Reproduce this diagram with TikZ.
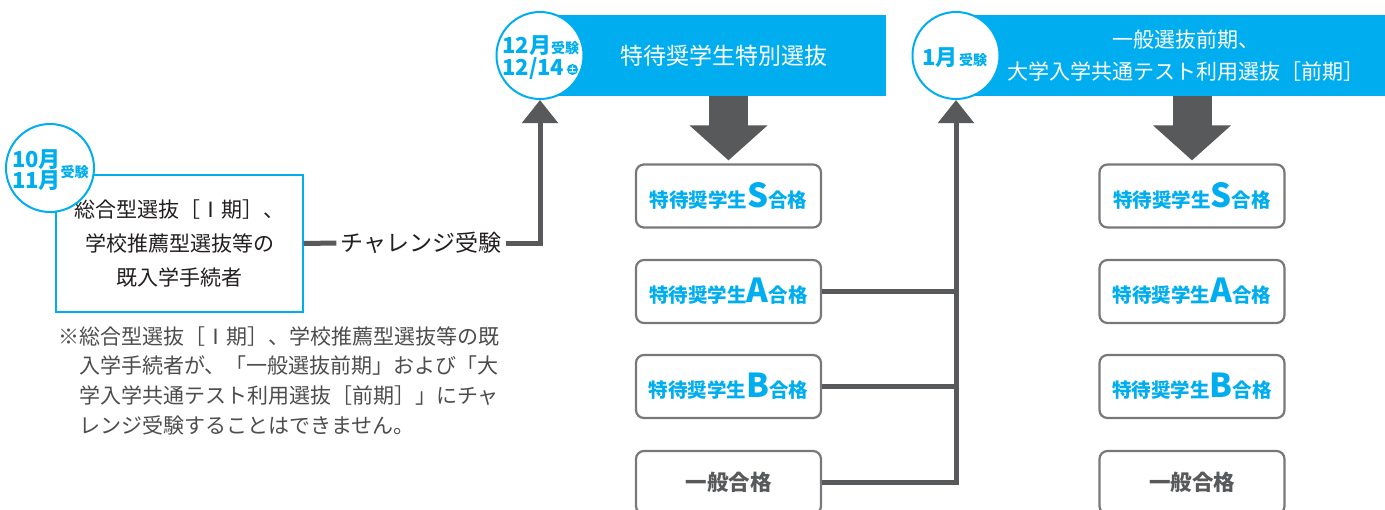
\documentclass[tikz,border=0pt]{standalone}
\usepackage{fontspec}
\setmainfont{Noto Sans CJK JP}
\usetikzlibrary{arrows.meta}
\definecolor{cy}{HTML}{00AEEF}
\definecolor{dg}{HTML}{58595B}
\definecolor{bd}{HTML}{77787B}
\definecolor{tx}{HTML}{231F20}
\definecolor{nt}{HTML}{4D4D4F}
\newcommand\tokutai[1]{{\fontsize{19.5}{20}\selectfont 特待奨学生}{\fontsize{33}{34}\selectfont #1}{\fontsize{19.5}{20}\selectfont 合格}}
\begin{document}
\begin{tikzpicture}[x=1pt,y=-1pt,
  conn/.style={draw=dg,line width=5pt},
  upar/.style={conn,-{Triangle[width=35pt,length=23pt]}},
  bigar/.style={draw=dg,line width=39pt,-{Triangle[width=76pt,length=35pt]},shorten >=3pt},
  result/.style={draw=bd,line width=2.2pt,rounded corners=8pt,fill=white,minimum width=185pt,minimum height=63pt,inner sep=0pt,text=cy,font=\bfseries},
  general/.style={result,text=dg,font=\bfseries\fontsize{21.5}{22}\selectfont},
  datec/.style={circle,draw=cy,line width=2pt,fill=white,minimum size=87pt,inner sep=0pt},
  bar/.style={fill=cy,minimum height=81pt,inner sep=0pt},
  ctxt/.style={text=cy,font=\bfseries\fontsize{22}{22}\selectfont,inner sep=0pt,anchor=base west,text height=16pt,text depth=0pt},
  csmall/.style={text=cy,font=\bfseries\fontsize{14}{14}\selectfont,inner sep=0pt,anchor=base west,text height=11pt,text depth=0pt},
  htxt/.style={text=white,inner sep=0pt,align=center}
]
\useasboundingbox (0,0) rectangle (1385,509);
\clip (0,0) rectangle (1385,509);
\fill[white] (0,0) rectangle (1385,509);

% left box and circle
\node[draw=cy,line width=1.5pt,minimum width=247pt,minimum height=137pt,inner sep=0pt,align=center,text=tx,font=\fontsize{21}{34}\selectfont] (lbox) at (179.5,243.5) {総合型選抜［Ⅰ期］、\\学校推薦型選抜等の\\既入学手続者};
\node[datec,minimum size=88pt] (c1) at (50,168) {};
\node[ctxt] (c1a) at (12,167) {10月};
\node[ctxt] (c1b) at (12,188.5) {11月};
\node[csmall] (c1c) at (60.5,177) {受験};

% note
\node[anchor=west,align=left,inner sep=0pt,text=nt,font=\fontsize{21}{29.7}\selectfont] (note) at (58,380.5) {※総合型選抜［Ⅰ期］、学校推薦型選抜等の既\\\hspace*{21pt}入学手続者が、「一般選抜前期」および「大\\\hspace*{21pt}学入学共通テスト利用選抜［前期］」にチャ\\\hspace*{21pt}レンジ受験することはできません。};

% header 1
\node[bar,minimum width=346pt] (bar1) at (713,55.5) {};
\node[htxt,font=\fontsize{23}{24}\selectfont] (h1) at (724,55.5) {特待奨学生特別選抜};
\node[datec] (c2) at (540,55.5) {};
\node[ctxt] (c2a) at (502,53) {12月};
\node[csmall] (c2b) at (551,53) {受験};
\node[ctxt] (c2c) at (502,75) {12/14};
\node[circle,fill=cy,minimum size=11pt,inner sep=0pt,text=white,font=\bfseries\fontsize{7.5}{8}\selectfont] (c2d) at (572.5,69.5) {土};

% header 2
\node[bar,minimum width=445pt] (bar2) at (1162.5,55.5) {};
\node[htxt,font=\fontsize{21}{32}\selectfont] (h2) at (1186,56) {一般選抜前期、\\大学入学共通テスト利用選抜［前期］};
\node[datec] (c3) at (956,55.5) {};
\node[ctxt] (c3a) at (922,65) {1月};
\node[csmall] (c3b) at (959,65) {受験};

% challenge
\node[inner xsep=4pt,inner ysep=0pt,text=tx,font=\fontsize{23}{24}\selectfont] (chal) at (421,243) {チャレンジ受験};
\draw[conn] (lbox.east) -- (chal.west);
\draw[upar] (chal.east) -| (c2.south);

% results column 1
\node[result] (S1) at (728.5,196) {\tokutai{S}};
\node[result] (A1) at (728.5,291.5) {\tokutai{A}};
\node[result] (B1) at (728.5,386.5) {\tokutai{B}};
\node[general] (G1) at (728.5,482.5) {一般合格};
% results column 2
\node[result] (S2) at (1192,196) {\tokutai{S}};
\node[result] (A2) at (1192,291.5) {\tokutai{A}};
\node[result] (B2) at (1192,386.5) {\tokutai{B}};
\node[general] (G2) at (1192,482.5) {一般合格};

% big arrows
\draw[bigar] (S1.north |- bar1.south) -- (S1.north);
\draw[bigar] (S2.north |- bar2.south) -- (S2.north);

% challenge connectors column 1
\draw[upar] (G1.east) -| (c3.south);
\draw[conn] (A1.east) -- (A1.east -| c3.south);
\draw[conn] (B1.east) -- (B1.east -| c3.south);
\end{tikzpicture}
\end{document}
